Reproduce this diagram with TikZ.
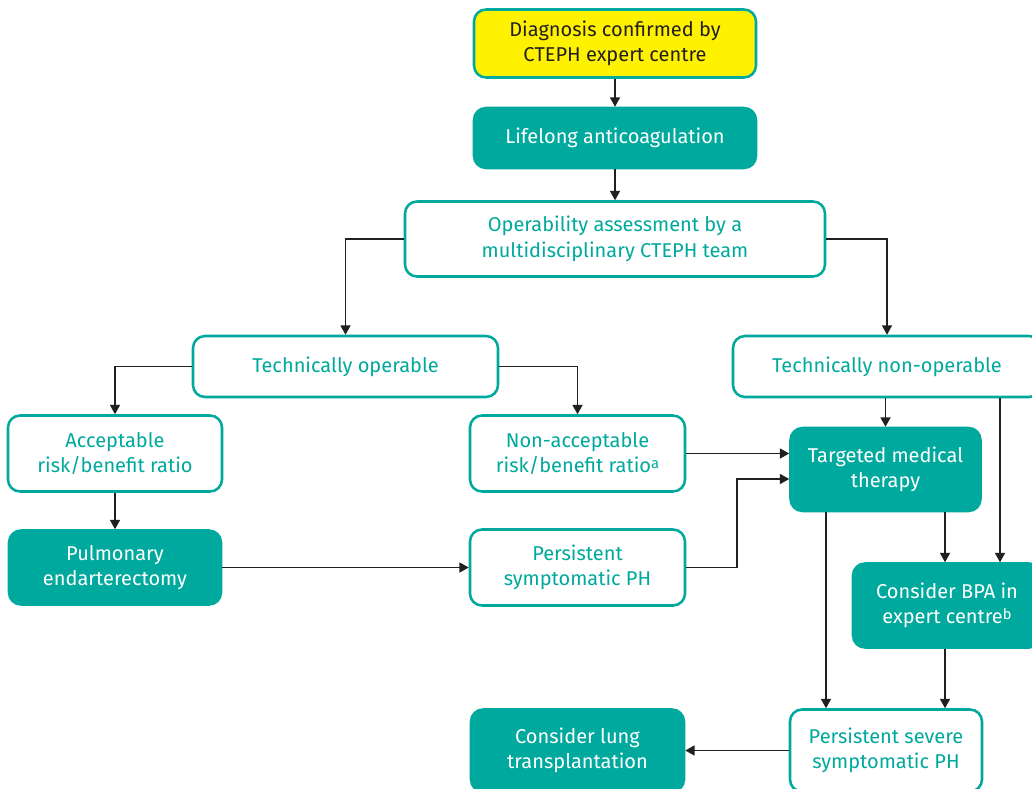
\documentclass[tikz,border=0pt]{standalone}
\usepackage{fontspec}
\setmainfont{Fira Sans}
\usetikzlibrary{arrows.meta}
\definecolor{tealc}{HTML}{00A99D}
\definecolor{yellowc}{HTML}{FFF200}
\definecolor{darkc}{HTML}{231F20}
\newcommand{\supx}[1]{\raisebox{0.45ex}{\fontsize{11}{11}\selectfont #1}}
\begin{document}
\begin{tikzpicture}[x=0.75pt,y=-0.75pt,
  base/.style={rounded corners=9pt, line width=1.9pt, draw=tealc, align=center, inner sep=0pt,
    font=\fontsize{15}{19.2}\selectfont},
  outl/.style={base, fill=white, text=tealc},
  solidbox/.style={base, fill=tealc, text=white},
  yel/.style={base, fill=yellowc, text=darkc},
  wh/.style 2 args={minimum width=#1*0.75pt, minimum height=#2*0.75pt},
  arr/.style={-{Triangle[length=7pt,width=7.5pt]}, line width=1.05pt, draw=darkc}]
\useasboundingbox (0,0) rectangle (1032,789);
\fill[white] (0,0) rectangle (1032,789);

\node[yel, wh={282}{68}] (diag) at (615,43.5) {Diagnosis confirmed by\\CTEPH expert centre};
\node[solidbox, wh={282}{60}] (life) at (615,138) {Lifelong anticoagulation};
\node[outl, wh={420}{75}] (oper) at (615,239) {Operability assessment by a\\multidisciplinary CTEPH team};
\node[outl, wh={305}{61}] (top) at (345.5,366.5) {Technically operable};
\node[outl, wh={308}{61}] (nonop) at (887,366.5) {Technically non-operable};
\node[outl, wh={214}{76}] (acc) at (115,453.5) {Acceptable\\risk/benefit ratio};
\node[outl, wh={215}{76}] (nacc) at (577.5,453.5) {Non-acceptable\\risk/benefit ratio\supx{a}};
\node[solidbox, wh={212}{74}] (pea) at (115,567.5) {Pulmonary\\endarterectomy};
\node[outl, wh={215}{76}] (psp) at (577.5,567.5) {Persistent\\symptomatic PH};
\node[solidbox, wh={190}{83}] (tmt) at (885.5,469.5) {Targeted medical\\therapy};
\node[solidbox, wh={188}{84}] (bpa) at (947,605.5) {Consider BPA in\\expert centre\supx{b}};
\node[outl, wh={192}{82}] (pss) at (886,750.5) {Persistent severe\\symptomatic PH};
\node[solidbox, wh={213}{82}] (lung) at (577.5,750.5) {Consider lung\\transplantation};

\coordinate (xa) at (1000,0);
\coordinate (xb) at (945,0);
\coordinate (xc) at (826,0);
\coordinate (xd) at (737,0);
\coordinate (ya) at (0,479);

\draw[arr] (diag) -- (life);
\draw[arr] (life) -- (oper);
\draw[arr] (oper.west) -| (top.north);
\draw[arr] (oper.east) -| (nonop.north);
\draw[arr] (top.west) -| (acc.north);
\draw[arr] (top.east) -| (nacc.north);
\draw[arr] (acc) -- (pea);
\draw[arr] (pea) -- (psp);
\draw[arr] (nacc.east) -- (nacc.east -| tmt.west);
\draw[arr] (psp.east) -- (psp.east -| xd) |- (tmt.west |- ya);
\draw[arr] (nonop.south -| tmt.north) -- (tmt.north);
\draw[arr] (nonop.south -| xa) -- (bpa.north -| xa);
\draw[arr] (tmt.south -| xb) -- (bpa.north -| xb);
\draw[arr] (tmt.south -| xc) -- (pss.north -| xc);
\draw[arr] (bpa.south -| xb) -- (pss.north -| xb);
\draw[arr] (pss) -- (lung);
\end{tikzpicture}
\end{document}
